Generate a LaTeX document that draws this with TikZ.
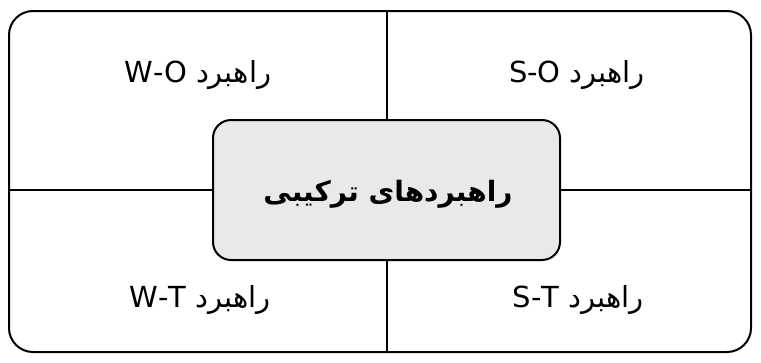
\documentclass[tikz,border=0pt]{standalone}
\usepackage{fontspec}
\setmainfont{DejaVu Sans}
\newfontfamily\arabicfont[Script=Arabic]{DejaVu Sans}
\TeXXeTstate=1
\begin{document}
\begin{tikzpicture}[x=1pt,y=-1pt,
  framebox/.style={draw, line width=2pt, rounded corners=24pt, inner sep=0pt, minimum width=742pt, minimum height=341pt},
  corebox/.style={draw, line width=2pt, rounded corners=18pt, inner sep=0pt, minimum width=347pt, minimum height=140pt, fill=gray!17},
  divider/.style={line width=2pt},
  quadlabel/.style={font=\arabicfont\fontsize{29}{34}\selectfont, inner sep=0pt, anchor=base}
]
\useasboundingbox (0,0) rectangle (761,362);
\node[framebox] (frame) at (380,181.5) {};
\node[corebox] (core) at (386.5,190) {};
\draw[divider] (frame.north -| core.north) -- (core.north);
\draw[divider] (core.south) -- (frame.south -| core.south);
\draw[divider] (frame.west |- core.west) -- (core.west);
\draw[divider] (core.east) -- (frame.east |- core.east);
\node[inner sep=0pt, anchor=base, font=\arabicfont\bfseries\fontsize{28}{32}\selectfont] (coretext) at (388,201) {\beginR راهبردهای ترکیبی\endR};
\node[quadlabel] (wo) at (198,82) {\beginR راهبرد \beginL W-O\endL\endR};
\node[quadlabel] (so) at (577,82) {\beginR راهبرد \beginL S-O\endL\endR};
\node[quadlabel] (wt) at (200,307) {\beginR راهبرد \beginL W-T\endL\endR};
\node[quadlabel] (st) at (578,307) {\beginR راهبرد \beginL S-T\endL\endR};
\end{tikzpicture}
\end{document}
